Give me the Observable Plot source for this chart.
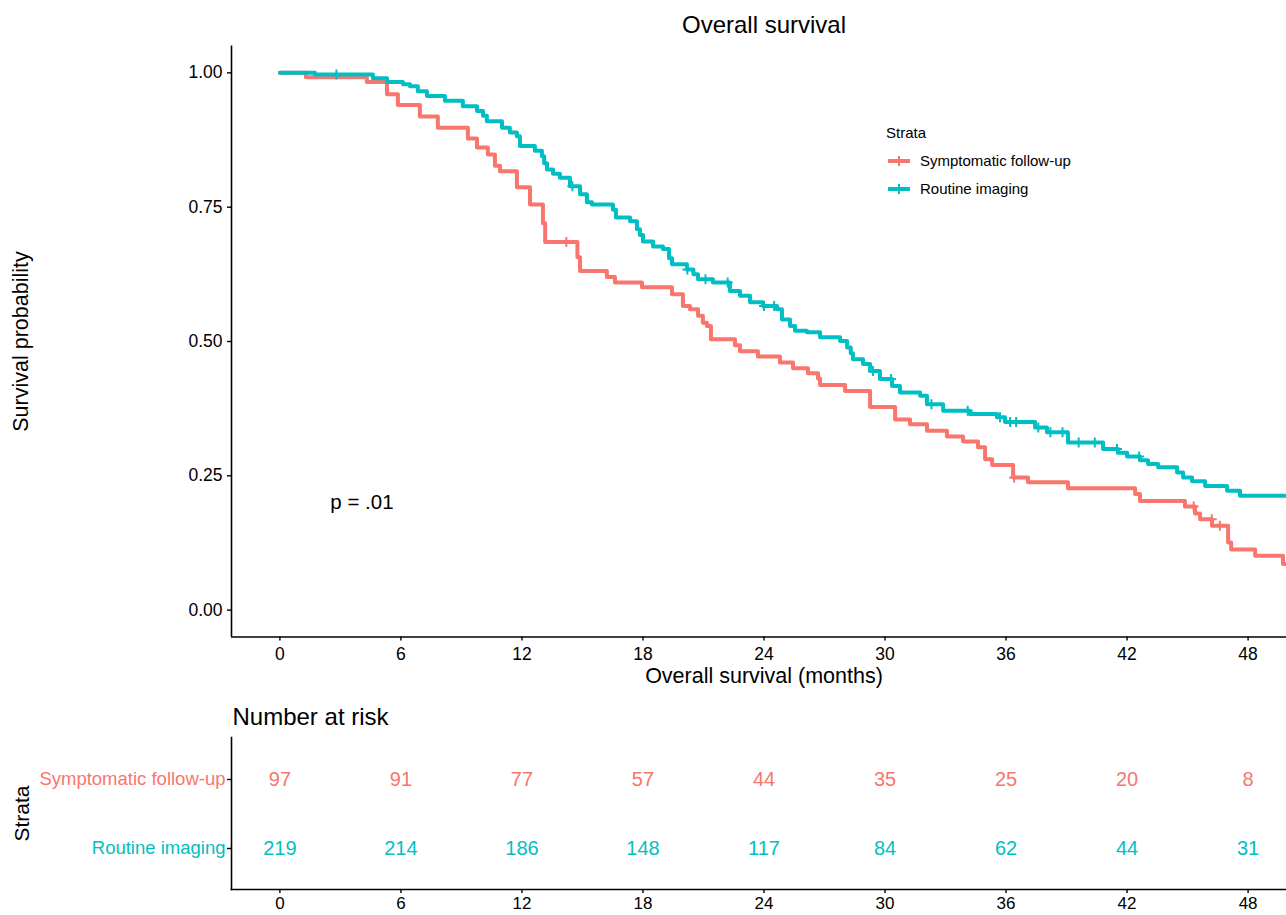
<!DOCTYPE html>
<html><head><meta charset="utf-8">
<script src="https://cdn.jsdelivr.net/npm/d3@7"></script>
<script src="https://cdn.jsdelivr.net/npm/@observablehq/plot@0.6"></script>
<style>
html,body{margin:0;padding:0;background:#fff;overflow:hidden;}
#root{position:relative;width:1286px;height:915px;overflow:hidden;font-family:"Liberation Sans",Arial,sans-serif;}
#main,#risk{position:absolute;left:0;width:1296px;}
#main{top:0;}
#risk{top:688px;}
#main svg,#risk svg{max-width:none !important;}
#legend{position:absolute;left:0;top:0;pointer-events:none;}
</style></head>
<body>
<div id="root"><div id="main"></div><div id="risk"></div><svg id="legend" width="1286" height="260"></svg></div>
<script>
// ---------- data ----------
const strata = ["Symptomatic follow-up", "Routine imaging"];
const strataColors = ["#F8766D", "#00BFC4"];
const xTicks = [0, 6, 12, 18, 24, 30, 36, 42, 48];
const yTicks = [0, 0.25, 0.5, 0.75, 1];
const lastFollowUp = [50.4, 50.4];

// [time (months), survival probability after the event]
const symptomaticSteps = [[0,1],[1.29,0.992],[4.31,0.983],[5.31,0.960],[5.85,0.940],[6.94,0.919],[7.83,0.898],[9.32,0.878],[9.77,0.861],[10.31,0.848],[10.66,0.827],[10.91,0.817],[11.75,0.787],[12.40,0.755],[13.04,0.720],[13.15,0.685],[14.75,0.657],[14.88,0.631],[16.21,0.620],[16.61,0.610],[17.95,0.601],[19.44,0.588],[19.98,0.566],[20.33,0.560],[20.73,0.548],[20.97,0.535],[21.17,0.529],[21.37,0.504],[22.56,0.493],[22.81,0.482],[23.70,0.472],[24.79,0.461],[25.44,0.450],[26.18,0.441],[26.68,0.431],[26.78,0.419],[28.02,0.408],[29.26,0.378],[30.50,0.355],[31.24,0.346],[32.08,0.334],[33.07,0.323],[33.87,0.314],[34.61,0.303],[34.96,0.281],[35.31,0.270],[36.35,0.247],[37.09,0.238],[39.07,0.227],[42.40,0.216],[42.64,0.203],[44.87,0.193],[45.37,0.180],[45.62,0.169],[46.21,0.157],[47.01,0.126],[47.16,0.113],[48.35,0.101],[49.73,0.086]];
const routineSteps = [[0,1],[1.74,0.997],[4.61,0.990],[5.31,0.983],[6.10,0.979],[6.45,0.975],[6.84,0.966],[7.29,0.957],[8.18,0.948],[9.07,0.938],[9.77,0.929],[10.07,0.920],[10.26,0.910],[11.01,0.898],[11.40,0.889],[11.75,0.882],[11.90,0.864],[12.64,0.855],[12.99,0.845],[13.10,0.832],[13.24,0.820],[13.54,0.812],[13.88,0.805],[14.38,0.789],[14.88,0.774],[15.22,0.759],[15.47,0.755],[16.51,0.745],[16.66,0.731],[17.36,0.724],[17.70,0.709],[17.85,0.698],[18.00,0.686],[18.50,0.677],[18.99,0.672],[19.29,0.655],[19.44,0.644],[20.18,0.634],[20.50,0.625],[20.73,0.616],[21.47,0.610],[22.31,0.594],[22.81,0.585],[23.31,0.573],[23.95,0.566],[24.64,0.560],[24.89,0.541],[25.29,0.529],[25.54,0.520],[26.13,0.517],[26.78,0.508],[27.77,0.501],[28.12,0.489],[28.30,0.478],[28.41,0.467],[28.91,0.458],[29.26,0.445],[29.75,0.430],[30.35,0.417],[30.74,0.405],[31.74,0.399],[32.08,0.383],[32.88,0.371],[34.21,0.365],[35.55,0.359],[35.95,0.350],[37.44,0.340],[38.03,0.331],[39.07,0.312],[40.81,0.300],[41.55,0.293],[42.00,0.286],[42.64,0.279],[43.04,0.272],[43.54,0.266],[44.48,0.256],[44.78,0.247],[45.22,0.240],[45.87,0.231],[46.96,0.222],[47.60,0.213]];

const symptomaticCensor = [14.2, 36.4, 45.3, 46.2, 46.6];
const routineCensor = [2.8, 14.5, 20.2, 21.1, 22.2, 24.0, 24.5, 29.4, 30.3, 32.3, 34.1, 35.7, 36.2, 36.5, 37.6, 38.2, 38.8, 39.6, 40.4, 41.5, 42.6];

const riskTimes = [0, 6, 12, 18, 24, 30, 36, 42, 48];
const riskSymptomatic = [97, 91, 77, 57, 44, 35, 25, 20, 8];
const riskRoutine = [219, 214, 186, 148, 117, 84, 62, 44, 31];

const pValue = {x: 2.5, y: 0.2, label: "p = .01"};

// ---------- build ----------
const W = 1296;
const xDomain = [-2.4, 50.4];
const yDomain = [-0.05, 1.05];
const FONT = '"Liberation Sans", Arial, sans-serif';

function toRows(steps, name, end) {
  const rows = steps.map(([t, s]) => ({time: t, surv: s, strata: name}));
  rows.push({time: end, surv: steps[steps.length - 1][1], strata: name});
  return rows;
}
function survAt(steps, t) {
  let s = 1;
  for (const [ti, si] of steps) { if (ti <= t) s = si; else break; }
  return s;
}
const curves = [
  ...toRows(symptomaticSteps, strata[0], lastFollowUp[0]),
  ...toRows(routineSteps, strata[1], lastFollowUp[1])
];
const censors = [
  ...symptomaticCensor.map(t => ({time: t, surv: survAt(symptomaticSteps, t), strata: strata[0]})),
  ...routineCensor.map(t => ({time: t, surv: survAt(routineSteps, t), strata: strata[1]}))
];
const plusSymbol = {
  draw(ctx, size) {
    const r = Math.sqrt(size / Math.PI);
    ctx.moveTo(-r, 0); ctx.lineTo(r, 0);
    ctx.moveTo(0, -r); ctx.lineTo(0, r);
  }
};
const svgStyle = {fontFamily: FONT, fontSize: "17.5px", color: "#000", background: "transparent", overflow: "visible", maxWidth: "none"};

const main = Plot.plot({
  width: W, height: 688,
  marginLeft: 231, marginRight: 0, marginTop: 45.5, marginBottom: 51.5,
  style: svgStyle,
  x: {domain: xDomain, label: null},
  y: {domain: yDomain, label: null},
  color: {domain: strata, range: strataColors},
  marks: [
    Plot.line(curves.filter(d => d.strata === strata[0]), {x: "time", y: "surv", stroke: "strata", curve: "step-after", strokeWidth: 4, clip: true}),
    Plot.dot(censors.filter(d => d.strata === strata[0]), {x: "time", y: "surv", stroke: "strata", symbol: plusSymbol, r: 5, strokeWidth: 2, fill: "none", clip: true}),
    Plot.line(curves.filter(d => d.strata === strata[1]), {x: "time", y: "surv", stroke: "strata", curve: "step-after", strokeWidth: 4, clip: true}),
    Plot.dot(censors.filter(d => d.strata === strata[1]), {x: "time", y: "surv", stroke: "strata", symbol: plusSymbol, r: 5, strokeWidth: 2, fill: "none", clip: true}),
    Plot.ruleX([xDomain[0]], {stroke: "#000", strokeWidth: 1.6}),
    Plot.ruleY([yDomain[0]], {stroke: "#000", strokeWidth: 1.6}),
    Plot.axisX({ticks: xTicks, tickSize: 4, tickPadding: 7, label: null, strokeWidth: 1.4}),
    Plot.axisY({ticks: yTicks, tickFormat: d3.format(".2f"), tickSize: 4, tickPadding: 5, label: null, strokeWidth: 1.4}),
    Plot.text([pValue], {x: "x", y: "y", text: "label", textAnchor: "start", fontSize: 20.5, fill: "#000"}),
    Plot.text(["Overall survival"], {frameAnchor: "top", lineAnchor: "middle", textAnchor: "middle", dy: -21, fontSize: 24, fill: "#000"}),
    Plot.text(["Overall survival (months)"], {frameAnchor: "bottom", lineAnchor: "middle", textAnchor: "middle", dy: 39, fontSize: 21.5, fill: "#000"}),
    Plot.text(["Survival probability"], {frameAnchor: "left", lineAnchor: "middle", textAnchor: "middle", dx: -210, rotate: -90, fontSize: 21.5, fill: "#000"})
  ]
});
document.getElementById("main").appendChild(main);

const riskRows = [
  ...riskTimes.map((t, i) => ({time: t, n: riskSymptomatic[i], strata: strata[0]})),
  ...riskTimes.map((t, i) => ({time: t, n: riskRoutine[i], strata: strata[1]}))
];

const risk = Plot.plot({
  width: W, height: 227,
  marginLeft: 231, marginRight: 0, marginTop: 49, marginBottom: 26,
  style: svgStyle,
  x: {domain: xDomain, label: null},
  y: {type: "point", domain: strata, padding: 0.6, label: null},
  color: {domain: strata, range: strataColors},
  marks: [
    Plot.frame({anchor: "left", stroke: "#000", strokeWidth: 1.6}),
    Plot.frame({anchor: "bottom", stroke: "#000", strokeWidth: 1.6}),
    Plot.axisX({ticks: xTicks, tickSize: 4, tickPadding: 3, label: null, strokeWidth: 1.4, fontSize: 17}),
    Plot.axisY({tickSize: 4, tickFormat: () => null, label: null, strokeWidth: 1.4}),
    Plot.text(strata, {y: d => d, frameAnchor: "left", lineAnchor: "middle", dx: -6, textAnchor: "end", fill: d => d, fontSize: 18.5}),
    Plot.text(riskRows, {x: "time", y: "strata", text: "n", fill: "strata", fontSize: 20}),
    Plot.text(["Number at risk"], {frameAnchor: "top-left", lineAnchor: "middle", textAnchor: "start", dx: 1, dy: -20, fontSize: 24, fill: "#000"}),
    Plot.text(["Strata"], {frameAnchor: "left", lineAnchor: "middle", textAnchor: "middle", dx: -209, rotate: -90, fontSize: 21, fill: "#000"})
  ]
});
document.getElementById("risk").appendChild(risk);

// ---------- legend ----------
const lg = d3.select("#legend").attr("font-family", FONT);
lg.append("text").attr("x", 886).attr("y", 133).attr("dy", "0.35em").attr("font-size", 15).attr("fill", "#000").text("Strata");
const legendRows = [161, 189];
strata.forEach((s, i) => {
  const g = lg.append("g").attr("transform", `translate(0,${legendRows[i]})`);
  g.append("line").attr("x1", 888).attr("x2", 910).attr("y1", 0).attr("y2", 0).attr("stroke", strataColors[i]).attr("stroke-width", 4);
  g.append("line").attr("x1", 899).attr("x2", 899).attr("y1", -5).attr("y2", 5).attr("stroke", strataColors[i]).attr("stroke-width", 2);
  g.append("text").attr("x", 920).attr("y", 0).attr("dy", "0.35em").attr("font-size", 15).attr("fill", "#000").text(s);
});
</script>
</body></html>
